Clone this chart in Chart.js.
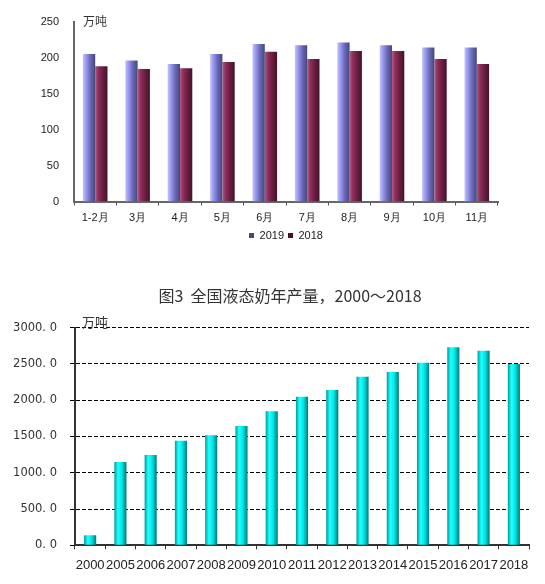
<!DOCTYPE html>
<html>
<head>
<meta charset="utf-8">
<script src="https://cdn.jsdelivr.net/npm/chart.js@4/dist/chart.umd.min.js"></script>
<style>
  html, body { margin: 0; padding: 0; background: #fff; overflow: hidden; width: 545px; height: 584px; }
  canvas { position: absolute; left: 0; }
  #monthly { top: 0; }
  #annual { top: 280px; }
  #annual-title {
    position: absolute; left: 0; top: 283px; width: 580px; height: 20px;
    line-height: 20px; text-align: center; color: #333;
    font: 16px 'Noto Sans CJK SC', sans-serif; white-space: pre;
  }
</style>
</head>
<body>
<canvas id="monthly" width="578" height="251"></canvas>
<canvas id="annual" width="580" height="304"></canvas>
<div id="annual-title"></div>
<script>
  // monthly output, 10k tonnes
  const months = ["1-2月", "3月", "4月", "5月", "6月", "7月", "8月", "9月", "10月", "11月"];
  const output2019 = [205, 196, 191, 205, 219, 217, 221, 217, 214, 214];
  const output2018 = [188, 184, 185, 194, 208, 198, 209, 209, 198, 191];

  // yearly liquid milk output, 10k tonnes
  const years = ["2000", "2005", "2006", "2007", "2008", "2009", "2010", "2011",
                 "2012", "2013", "2014", "2015", "2016", "2017", "2018"];
  const liquidMilk = [138, 1148, 1245, 1442, 1517, 1645, 1847, 2049, 2141, 2325, 2390, 2518, 2730, 2683, 2500];

  const annualTitle = "图3  全国液态奶年产量，2000～2018";
  document.getElementById("annual-title").textContent = annualTitle;

  // horizontal gradient across each bar, needs the bar's position from a previous layout pass
  function cylinder(stops, fallback) {
    return (c) => {
      const meta = c.chart.getDatasetMeta(c.datasetIndex);
      const el = c.dataIndex == null ? null : meta.data[c.dataIndex];
      if (!el || !Number.isFinite(el.x) || !el.width) return fallback;
      const g = c.chart.ctx.createLinearGradient(el.x - el.width / 2, 0, el.x + el.width / 2, 0);
      stops.forEach(([o, col]) => g.addColorStop(o, col));
      return g;
    };
  }

  function unitLabel(font, dx, dy) {
    return {
      id: "unitLabel",
      afterDraw(chart) {
        const { ctx, chartArea } = chart;
        ctx.save();
        ctx.font = font;
        ctx.fillStyle = "#333";
        ctx.textBaseline = "middle";
        ctx.fillText("万吨", chartArea.left + dx, chartArea.top + dy);
        ctx.restore();
      },
    };
  }

  const sans = "'Liberation Sans', Arial, sans-serif";

  const monthly = new Chart(document.getElementById("monthly"), {
    type: "bar",
    data: {
      labels: months,
      datasets: [
        {
          label: "2019",
          data: output2019,
          backgroundColor: cylinder([[0, "#c4c4ff"], [0.25, "#9a9af0"], [0.6, "#6a6ab8"], [1, "#46467a"]], "#7070c4"),
          barPercentage: 1,
          categoryPercentage: 0.58,
        },
        {
          label: "2018",
          data: output2018,
          backgroundColor: cylinder([[0, "#b35a86"], [0.25, "#8e2f5c"], [0.6, "#6a1f42"], [1, "#44122a"]], "#6a1f42"),
          barPercentage: 1,
          categoryPercentage: 0.58,
        },
      ],
    },
    options: {
      responsive: false,
      animation: false,
      layout: { padding: { top: 18, right: 80, left: 0, bottom: 0 } },
      plugins: {
        tooltip: { enabled: false },
        legend: {
          position: "bottom",
          fullSize: false,
          labels: { boxWidth: 5, boxHeight: 5, padding: 4, color: "#222", font: { family: sans, size: 11 } },
        },
      },
      scales: {
        x: {
          afterFit: (s) => { s.height = 24.5; },
          grid: { display: true, drawOnChartArea: false, offset: true, tickLength: 4, color: "#555", tickColor: "#555" },
          border: { color: "#666", width: 2 },
          ticks: { padding: 6, color: "#222", font: { family: sans, size: 11 } },
        },
        y: {
          min: 0,
          max: 250,
          afterFit: (s) => { s.width = 74; },
          grid: { display: false, drawTicks: false },
          border: { color: "#666", width: 2 },
          ticks: { stepSize: 50, padding: 15, color: "#222", font: { family: sans, size: 11 } },
        },
      },
    },
    plugins: [unitLabel("12px 'Noto Sans CJK SC', sans-serif", 9, 0)],
  });
  monthly.update("none");

  const annual = new Chart(document.getElementById("annual"), {
    type: "bar",
    data: {
      labels: years,
      datasets: [
        {
          label: "液态奶产量",
          data: liquidMilk,
          backgroundColor: cylinder([[0, "#009a9a"], [0.3, "#22ffff"], [0.6, "#00eaea"], [1, "#007878"]], "#00d8d8"),
          barPercentage: 0.4,
          categoryPercentage: 1,
        },
      ],
    },
    options: {
      responsive: false,
      animation: false,
      layout: { padding: { top: 47.7, right: 51, left: 0, bottom: 0 } },
      plugins: {
        tooltip: { enabled: false },
        legend: { display: false },
      },
      scales: {
        x: {
          afterFit: (s) => { s.height = 38.7; },
          grid: { display: true, drawOnChartArea: false, offset: true, tickLength: 4, color: "#333", tickColor: "#333" },
          border: { color: "#333", width: 2 },
          ticks: { padding: 8, color: "#222", maxRotation: 0, autoSkip: false, font: { family: sans, size: 13 } },
        },
        y: {
          min: 0,
          max: 3000,
          afterFit: (s) => { s.width = 75; },
          grid: { color: "#000", lineWidth: 1, tickLength: 5, tickColor: "#000", tickBorderDash: [] },
          border: { color: "#333", width: 2, dash: [4, 2] },
          ticks: {
            stepSize: 500,
            padding: 13,
            color: "#333",
            font: { family: "'DejaVu Sans', sans-serif", size: 11.5 },
            callback: (v) => v.toFixed(1).replace(".", ". "),
          },
        },
      },
    },
    plugins: [unitLabel("13px 'Noto Sans CJK SC', sans-serif", 7, -6)],
  });
  annual.update("none");
</script>
</body>
</html>
